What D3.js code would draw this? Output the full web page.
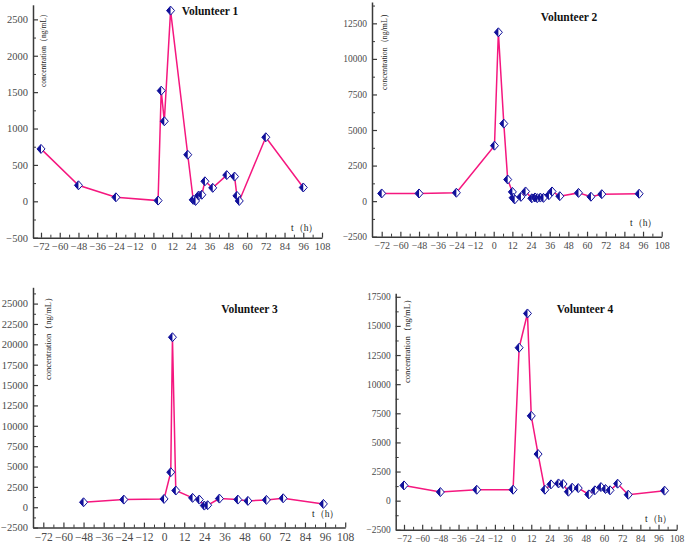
<!DOCTYPE html>
<html>
<head>
<meta charset="utf-8">
<script src="https://cdn.jsdelivr.net/npm/d3@7"></script>
<style>
  html, body { margin: 0; padding: 0; background: #fff; }
  svg { display: block; }
  text { font-family: "Liberation Serif", "DejaVu Serif", serif; }
</style>
</head>
<body>
<svg id="chart" width="685" height="546"></svg>
<script>
// ---- Data ----
const v1Time = [-72, -48, -24, 3, 5, 7, 11, 22, 25.5, 27, 29, 31, 33, 38, 47, 52, 53.5, 55, 72, 96];
const v1Conc = [720, 220, 55, 10, 1520, 1100, 2620, 640, 20, 5, 80, 90, 275, 185, 360, 340, 75, 5, 880, 190];

const v2Time = [-72, -48, -24, 0.5, 3, 6.5, 9, 12, 12.5, 13.5, 17.5, 20.5, 24.5, 26.5, 28, 30, 32, 35.5, 37.5, 42.5, 54.5, 62.5, 69.5, 93.5];
const v2Conc = [540, 540, 590, 3900, 11870, 5450, 1520, 650, 240, 120, 300, 680, 200, 260, 210, 250, 230, 420, 680, 350, 580, 310, 490, 520];

const v3Time = [-48, -24, 0, 4, 5, 7, 17, 21, 24, 26, 33, 44, 50, 61, 71, 95];
const v3Conc = [610, 940, 1020, 4300, 20870, 2050, 1150, 940, 200, 250, 1060, 940, 780, 900, 1100, 410];

const v4Time = [-72, -48, -24, 0, 4, 9.5, 12, 16.5, 21, 25, 30, 33, 36.5, 39, 43, 50, 54, 58, 61, 64, 69, 76, 100];
const v4Conc = [1310, 740, 940, 940, 13130, 16070, 7280, 4000, 940, 1400, 1480, 1430, 770, 1110, 1080, 540, 890, 1170, 1000, 890, 1460, 510, 860];

const xTicks = [-72, -60, -48, -36, -24, -12, 0, 12, 24, 36, 48, 60, 72, 84, 96, 108];
const yTicks1 = [-500, 0, 500, 1000, 1500, 2000, 2500];
const yTicks2 = [-2500, 0, 2500, 5000, 7500, 10000, 12500];
const yTicks3 = [-2500, 0, 2500, 5000, 7500, 10000, 12500, 15000, 17500, 20000, 22500, 25000];
const yTicks4 = [-2500, 0, 2500, 5000, 7500, 10000, 12500, 15000, 17500];

const titles = ["Volunteer 1", "Volunteer 2", "Volunteer 3", "Volunteer 4"];
const yLabel = "concentration（ng/mL）";
const xLabel = "t（h）";

// ---- Layout of each panel (pixel geometry) ----
const panels = [
  { time: v1Time, conc: v1Conc, yTicks: yTicks1, yMin: -500, yMax: 2700, yMinor: 250,
    axisX: 33, x72: 41, x108: 322, bottom: 237.7, top: 4.8, fx: 10.5, fy: 10.5,
    title: [210, 15], tLab: [291, 231], yLab: [43, 48.5, 77] },
  { time: v2Time, conc: v2Conc, yTicks: yTicks2, yMin: -2500, yMax: 14000, yMinor: 1250,
    axisX: 372, x72: 381.7, x108: 661.7, bottom: 236.7, top: 2, fx: 10, fy: 9.5,
    title: [569, 21], tLab: [630, 226], yLab: [384, 50, 80] },
  { time: v3Time, conc: v3Conc, yTicks: yTicks3, yMin: -2500, yMax: 27000, yMinor: 1250,
    axisX: 33, x72: 43.3, x108: 345.2, bottom: 527.6, top: 287.3, fx: 11.5, fy: 10.5,
    title: [249.5, 313], tLab: [312, 517], yLab: [48, 336.5, 87] },
  { time: v4Time, conc: v4Conc, yTicks: yTicks4, yMin: -2500, yMax: 17800, yMinor: 1250,
    axisX: 395.7, x72: 404, x108: 676.7, bottom: 529.8, top: 293.3, fx: 9.5, fy: 9.5,
    title: [585, 313], tLab: [645, 522], yLab: [406.7, 339, 88] }
];

const svg = d3.select("#chart");
const lineColor = "#f5177f";
const markColor = "#10109a";
const axisColor = "#3a3a3a";
const labelColor = "#4a4a4a";

panels.forEach((p, i) => {
  const base = d3.scaleLinear().domain([-72, 108]).range([p.x72, p.x108]);
  const x = d3.scaleLinear().domain([base.invert(p.axisX), 108]).range([p.axisX, p.x108]);
  const y = d3.scaleLinear().domain([p.yMin, p.yMax]).range([p.bottom, p.top]);

  const g = svg.append("g");

  // minor ticks
  const xMinor = d3.range(-66, 108, 12);
  g.append("g").attr("transform", `translate(0,${p.bottom})`)
    .call(d3.axisBottom(x).tickValues(xMinor).tickSizeInner(-3).tickSizeOuter(0).tickFormat(""))
    .call(a => a.select(".domain").remove())
    .selectAll("line").attr("stroke", axisColor);
  const yMinor = d3.range(p.yMin + p.yMinor, p.yMax, p.yMinor * 2);
  g.append("g").attr("transform", `translate(${p.axisX},0)`)
    .call(d3.axisLeft(y).tickValues(yMinor).tickSizeInner(-3).tickSizeOuter(0).tickFormat(""))
    .call(a => a.select(".domain").remove())
    .selectAll("line").attr("stroke", axisColor);

  // x axis
  const xa = g.append("g").attr("transform", `translate(0,${p.bottom})`)
    .call(d3.axisBottom(x).tickValues(xTicks).tickSizeInner(-5).tickSizeOuter(0).tickPadding(5).tickFormat(d3.format("d")));
  xa.select(".domain").attr("stroke", axisColor).attr("stroke-width", 1.5);
  xa.selectAll("line").attr("stroke", axisColor).attr("stroke-width", 1.2);
  xa.selectAll("text").attr("fill", labelColor).attr("font-size", p.fx)
    .style("font-family", '"Liberation Serif", serif');

  // y axis
  const ya = g.append("g").attr("transform", `translate(${p.axisX},0)`)
    .call(d3.axisLeft(y).tickValues(p.yTicks).tickSizeInner(-5).tickSizeOuter(0).tickPadding(5).tickFormat(d3.format("d")));
  ya.select(".domain").attr("stroke", axisColor).attr("stroke-width", 1.5);
  ya.selectAll("line").attr("stroke", axisColor).attr("stroke-width", 1.2);
  ya.selectAll("text").attr("fill", labelColor).attr("font-size", p.fy)
    .style("font-family", '"Liberation Serif", serif');

  // data
  const data = p.time.map((t, k) => ({ t: t, c: p.conc[k] }));
  g.append("path").datum(data)
    .attr("fill", "none").attr("stroke", lineColor).attr("stroke-width", 1.5)
    .attr("d", d3.line().x(d => x(d.t)).y(d => y(d.c)));

  const mk = g.selectAll(".mk").data(data).enter().append("g")
    .attr("transform", d => `translate(${x(d.t)},${y(d.c)})`);
  mk.append("path").attr("d", "M0,-4.5L4,0L0,4.5L-4,0Z")
    .attr("fill", "#fff").attr("stroke", markColor).attr("stroke-width", 1);
  mk.append("path").attr("d", "M0,-4.5L-4,0L0,4.5Z").attr("fill", markColor);

  // title
  g.append("text").attr("x", p.title[0]).attr("y", p.title[1])
    .attr("text-anchor", "middle").attr("font-weight", "bold").attr("font-size", 11.5)
    .attr("fill", "#111").text(titles[i]);

  // x label
  g.append("text").attr("x", p.tLab[0]).attr("y", p.tLab[1])
    .attr("font-size", 9.5).attr("fill", "#222").text(xLabel);

  // y label
  g.append("text")
    .attr("transform", `translate(${p.yLab[0]},${p.yLab[1]}) rotate(-90)`)
    .attr("text-anchor", "middle").attr("dominant-baseline", "central")
    .attr("font-size", 8.5).attr("fill", "#222")
    .attr("textLength", p.yLab[2]).attr("lengthAdjust", "spacingAndGlyphs")
    .text(yLabel);
});
</script>
</body>
</html>
